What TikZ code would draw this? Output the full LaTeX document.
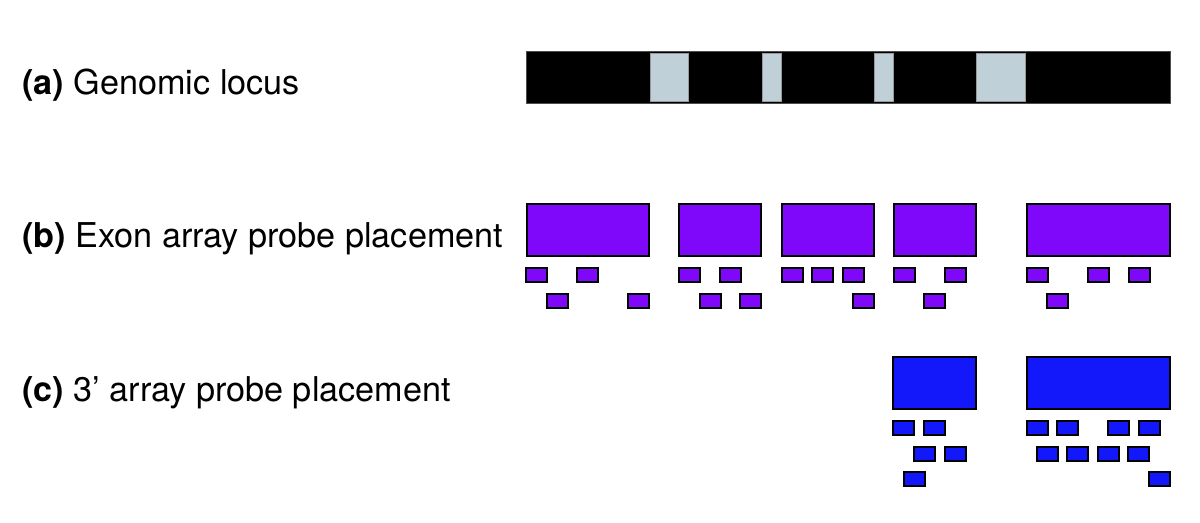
\documentclass[tikz,border=0pt]{standalone}
\usepackage{fontspec}
\setmainfont{TeX Gyre Heros}
\usepackage{tikz}
\definecolor{intron}{RGB}{192,208,216}
\definecolor{exonpurple}{RGB}{128,8,250}
\definecolor{threeblue}{RGB}{18,24,250}
\tikzstyle{lbl} = [anchor=base west, inner sep=0pt, font=\fontsize{17.1}{19}\selectfont]
\tikzstyle{locus} = [fill=black, draw=black!70, line width=0.4pt]
\tikzstyle{gap} = [fill=intron, draw=black!40, line width=0.3pt]
\tikzstyle{exonbox} = [fill=exonpurple, draw=black, line width=1pt]
\tikzstyle{exonprobe} = [fill=exonpurple, draw=black, line width=0.9pt]
\tikzstyle{threebox} = [fill=threeblue, draw=black, line width=1pt]
\tikzstyle{threeprobe} = [fill=threeblue, draw=black, line width=0.9pt]

\begin{document}
\begin{tikzpicture}[x=0.5pt, y=-0.5pt]
\useasboundingbox (0,0) rectangle (1200,523);

%Labels==============================================
\node[lbl] (la) at (22,95) {\textbf{(a)} Genomic locus};
\node[lbl] (lb) at (22,248) {\textbf{(b)} Exon array probe placement};
\node[lbl] (lc) at (22,402) {\textbf{(c)} 3’ array probe placement};

%Genomic locus=======================================
\draw[locus] (526,51) rectangle (1170,103);
\foreach \xa/\xb in {650/688, 762/781, 874/893, 976/1025}
  \draw[gap] (\xa,53) rectangle (\xb,101);

%Exon array==========================================
\foreach \xa/\xb in {527/649, 679/761, 782/874, 894/976, 1027/1170}
  \draw[exonbox] (\xa,204) rectangle (\xb,256);
\foreach \x in {526, 577, 679, 720, 782, 812, 843, 894, 945, 1027, 1088, 1129}
  \draw[exonprobe] (\x,268) rectangle ++(21,14);
\foreach \x in {547, 628, 700, 740, 853, 924, 1047}
  \draw[exonprobe] (\x,294) rectangle ++(21,14);

%3' array============================================
\foreach \xa/\xb in {893/976, 1027/1170}
  \draw[threebox] (\xa,357) rectangle (\xb,409);
\foreach \x in {893, 924, 1027, 1057, 1108, 1139}
  \draw[threeprobe] (\x,421) rectangle ++(21,14);
\foreach \x in {914, 945, 1037, 1067, 1098, 1128}
  \draw[threeprobe] (\x,447) rectangle ++(21,14);
\foreach \x in {904, 1149}
  \draw[threeprobe] (\x,472) rectangle ++(21,14);
\end{tikzpicture}
\end{document}
